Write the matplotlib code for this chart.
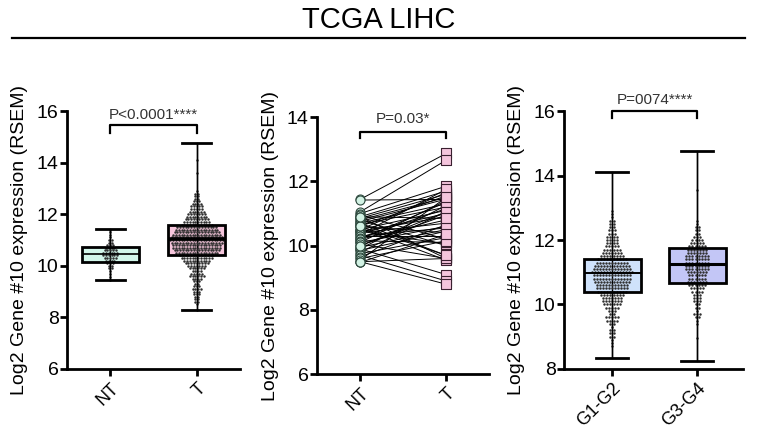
import matplotlib.pyplot as plt
import numpy as np

plt.rcParams['font.family'] = ['Liberation Sans', 'DejaVu Sans']

title = "TCGA LIHC"
ylabel = "Log2 Gene #10 expression (RSEM)"

# panel 1 - all normal (NT) vs all tumour (T); swarm rows: value level -> number of dots
nt_levels = [9.45, 9.55, 9.7, 9.8, 9.9, 10.0, 10.1, 10.2, 10.3, 10.4, 10.5, 10.6, 10.7,
             10.8, 10.9, 11.0, 11.1, 11.2, 11.3, 11.4]
nt_counts = [1, 1, 1, 1, 2, 2, 3, 4, 5, 6, 6, 5, 4, 3, 2, 2, 1, 1, 1, 1]

t_levels = [8.3, 8.5, 8.6, 8.7, 8.8, 8.9, 9.0, 9.1, 9.2, 9.3, 9.4, 9.5, 9.6, 9.7, 9.8, 9.9,
            10.0, 10.1, 10.2, 10.3, 10.4, 10.5, 10.6, 10.7, 10.8, 10.9, 11.0, 11.1, 11.2,
            11.3, 11.4, 11.5, 11.6, 11.7, 11.8, 11.9, 12.0, 12.1, 12.2, 12.3, 12.4, 12.5,
            12.6, 12.7, 12.8, 12.9, 13.6, 14.1]
t_counts = [1, 1, 2, 2, 2, 3, 3, 4, 3, 2, 3, 4, 6, 5, 4, 6,
            7, 9, 10, 12, 13, 16, 17, 18, 18, 19, 20, 19, 18,
            17, 16, 15, 12, 10, 9, 8, 7, 6, 5, 5, 4, 3,
            2, 2, 2, 1, 1, 1]

# panel 2 - paired samples
pair_nt = [11.44, 11.42, 11.05, 11.0, 10.95, 10.9, 10.9, 10.85, 10.8, 10.8, 10.75, 10.7,
           10.7, 10.65, 10.6, 10.6, 10.55, 10.5, 10.5, 10.45, 10.45, 10.4, 10.4, 10.35,
           10.3, 10.3, 10.25, 10.2, 10.2, 10.15, 10.1, 10.1, 10.05, 10.0, 9.95, 9.9, 9.9,
           9.85, 9.8, 9.75, 9.7, 9.65, 9.6, 9.55, 9.5, 9.5, 9.48, 10.0, 10.6, 10.9]
pair_t = [12.87, 11.44, 12.66, 11.85, 10.2, 11.7, 9.6, 11.6, 11.5, 10.0, 11.45, 9.7,
          11.3, 11.2, 10.4, 11.55, 9.55, 11.1, 11.65, 10.05, 10.9, 11.0, 10.7, 11.75,
          10.55, 10.3, 11.15, 10.8, 11.35, 10.1, 10.6, 11.4, 9.6, 10.95, 10.5, 11.25, 9.1,
          10.45, 11.05, 10.25, 8.9, 10.65, 10.15, 11.5, 8.8, 9.6, 10.35, 11.05, 9.7, 10.85]

# panel 3 - tumour grade
g12_levels = [8.7, 8.8, 8.9, 9.0, 9.1, 9.2, 9.3, 9.4, 9.5, 9.6, 9.7, 9.8, 9.9, 10.0, 10.1,
              10.2, 10.3, 10.4, 10.5, 10.6, 10.7, 10.8, 10.9, 11.0, 11.1, 11.2, 11.3, 11.4,
              11.5, 11.6, 11.7, 11.8, 11.9, 12.0, 12.1, 12.2, 12.3, 12.4, 12.5, 12.6, 12.7,
              12.8, 12.9]
g12_counts = [1, 1, 1, 2, 2, 2, 1, 2, 4, 5, 2, 3, 5, 6, 7,
              7, 8, 10, 11, 11, 12, 13, 13, 14, 13, 12, 11, 10,
              8, 7, 6, 5, 4, 4, 4, 3, 3, 2, 2, 2, 1,
              1, 1]

g34_levels = [8.95, 9.4, 9.5, 9.6, 9.7, 9.8, 9.9, 10.0, 10.1, 10.2, 10.3, 10.4, 10.5, 10.6,
              10.7, 10.8, 10.9, 11.0, 11.1, 11.2, 11.3, 11.4, 11.5, 11.6, 11.7, 11.8, 11.9,
              12.0, 12.1, 12.2, 12.3, 12.4, 12.5, 12.6, 13.55]
g34_counts = [1, 1, 1, 2, 3, 1, 2, 2, 3, 3, 3, 4, 5, 6,
              7, 6, 6, 7, 8, 8, 8, 8, 8, 7, 7, 6, 5,
              4, 3, 2, 2, 2, 1, 1, 1]

# box stats: min, q1, median, q3, max
nt_box = [9.43, 10.15, 10.46, 10.72, 11.44]
t_box = [8.27, 10.42, 11.03, 11.57, 14.76]
g12_box = [8.34, 10.38, 10.99, 11.41, 14.11]
g34_box = [8.25, 10.66, 11.26, 11.76, 14.75]


def swarm(ax, pos, levels, counts, dx=0.032):
    xs, ys = [], []
    for lev, n in zip(levels, counts):
        off = (np.arange(n) - (n - 1) / 2) * dx
        xs.extend(pos + off)
        ys.extend([lev] * n)
    ax.scatter(xs, ys, s=3.2, color='#303030', linewidths=0, zorder=2)


def box(ax, pos, vals, color, med_lw, width=0.66, capw=0.34):
    st = [dict(whislo=vals[0], q1=vals[1], med=vals[2], q3=vals[3], whishi=vals[4], fliers=[])]
    ax.bxp(st, positions=[pos], widths=width, patch_artist=True, showfliers=False,
           boxprops=dict(facecolor=color, edgecolor='none'), whiskerprops=dict(lw=0),
           capprops=dict(lw=0), medianprops=dict(lw=0), zorder=1)
    ax.vlines(pos, vals[0], vals[4], color='black', lw=1.0, zorder=1.5)
    ax.bxp(st, positions=[pos], widths=width, capwidths=capw, patch_artist=True,
           showfliers=False,
           boxprops=dict(facecolor='none', edgecolor='black', lw=2.0),
           whiskerprops=dict(color='black', lw=1.0),
           capprops=dict(color='black', lw=2.0),
           medianprops=dict(color='black', lw=med_lw), zorder=3)


def bracket(ax, y, h, text, ty):
    ax.plot([0, 0, 1, 1], [y - h, y, y, y - h], color='black', lw=1.6, clip_on=False)
    ax.text(0.5, ty, text, ha='center', va='center', fontsize=11, color='#333333',
            clip_on=False)


def style(ax, ylim, ticks, xlim, xlabels):
    for s in ['top', 'right']:
        ax.spines[s].set_visible(False)
    for s in ['left', 'bottom']:
        ax.spines[s].set_linewidth(2.0)
    ax.set_ylim(*ylim)
    ax.set_yticks(ticks)
    ax.set_xlim(*xlim)
    ax.set_xticks([0, 1])
    ax.set_xticklabels(xlabels, rotation=45, ha='right', rotation_mode='anchor', fontsize=13)
    ax.tick_params(axis='y', labelsize=14, length=5, width=2.0, pad=1)
    ax.tick_params(axis='x', length=5, width=2.0, pad=3)
    ax.set_ylabel(ylabel, fontsize=14, labelpad=6)


fig = plt.figure(figsize=(7.57, 4.34), dpi=100)

fig.text(0.5, 0.955, title, ha='center', va='center', fontsize=21)
fig.add_artist(plt.Line2D([0.016, 0.984], [0.912, 0.912], color='black', lw=1.6))

# panel 1
ax1 = fig.add_axes([0.0885, 0.150, 0.2285, 0.594])
box(ax1, 0, nt_box, '#d2f6ea', 1.2)
box(ax1, 1, t_box, '#f6c6dc', 2.6)
swarm(ax1, 0, nt_levels, nt_counts)
swarm(ax1, 1, t_levels, t_counts)
style(ax1, (6, 16), [6, 8, 10, 12, 14, 16], (-0.5, 1.5), ['NT', 'T'])
bracket(ax1, 15.45, 0.3, 'P<0.0001****', 15.85)

# panel 2
ax2 = fig.add_axes([0.419, 0.138, 0.227, 0.592])
for a, b in zip(pair_nt, pair_t):
    ax2.plot([0, 1], [a, b], color='black', lw=0.7, zorder=1)
ax2.scatter(np.zeros(len(pair_nt)), pair_nt, s=42, marker='o', facecolor='#d2f2e4',
            edgecolor='#2f4a3f', linewidths=0.8, zorder=2)
ax2.scatter(np.ones(len(pair_t)), pair_t, s=42, marker='s', facecolor='#f4c4dc',
            edgecolor='#3a2030', linewidths=0.8, zorder=2)
style(ax2, (6, 14), [6, 8, 10, 12, 14], (-0.5, 1.5), ['NT', 'T'])
bracket(ax2, 13.55, 0.2, 'P=0.03*', 13.93)

# panel 3
ax3 = fig.add_axes([0.745, 0.150, 0.2365, 0.594])
box(ax3, 0, g12_box, '#cfe2fb', 1.4, width=0.67, capw=0.38)
box(ax3, 1, g34_box, '#c3c6f6', 2.2, width=0.67, capw=0.38)
swarm(ax3, 0, g12_levels, g12_counts, dx=0.036)
swarm(ax3, 1, g34_levels, g34_counts, dx=0.036)
style(ax3, (8, 16), [8, 10, 12, 14, 16], (-0.565, 1.54), ['G1-G2', 'G3-G4'])
bracket(ax3, 16.0, 0.2, 'P=0074****', 16.36)

fig.savefig('out.png', dpi=100)
